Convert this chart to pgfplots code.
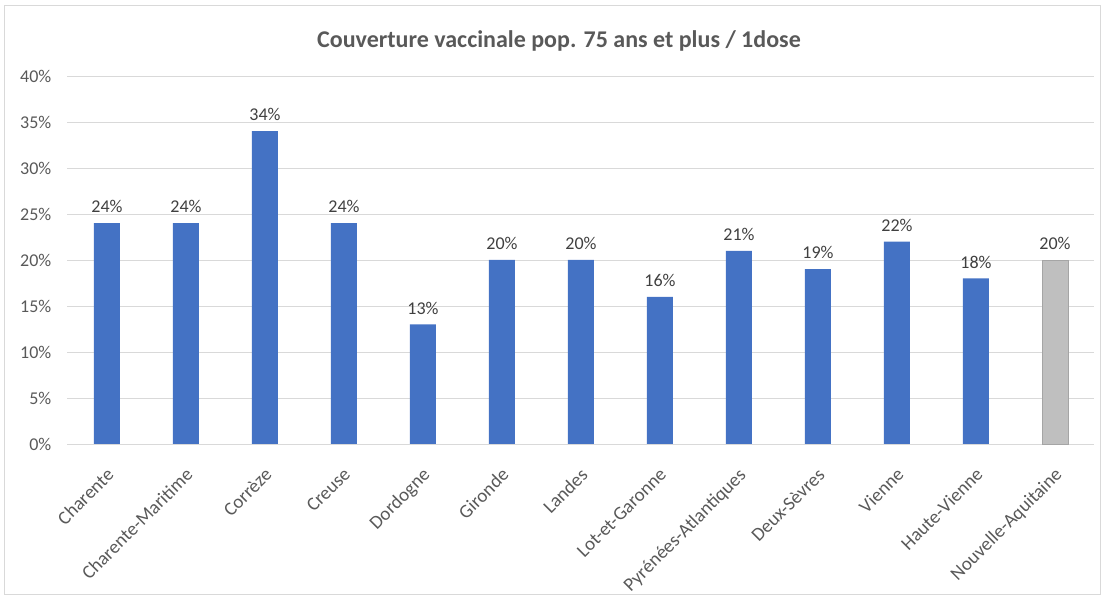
\documentclass[border=0pt]{standalone}
\usepackage{pgfplots}
\pgfplotsset{compat=1.18}
\usepackage{fontspec}
\setmainfont{Carlito}
\definecolor{barblue}{HTML}{4472C4}
\definecolor{bargray}{HTML}{BFBFBF}
\definecolor{bargrayedge}{HTML}{A5A5A5}
\definecolor{txt}{HTML}{595959}
\definecolor{grid}{HTML}{D9D9D9}
\begin{document}
\begin{tikzpicture}[x=1pt,y=1pt]
\useasboundingbox (-67.5,-153) rectangle (1036.5,444);
\draw[color=grid,line width=0.8pt] (-63,-150) rectangle (1033,439);
\begin{axis}[
  at={(0,0)}, anchor=south west,
  scale only axis, width=1027pt, height=368pt,
  xmin=-0.5, xmax=12.5, ymin=0, ymax=40,
  ytick={0,5,...,40},
  yticklabel={\pgfmathprintnumber{\tick}\%},
  /pgf/number format/assume math mode=true,
  ymajorgrids, grid style={color=grid, line width=0.8pt},
  axis y line*=left, axis x line*=bottom,
  y axis line style={draw=none},
  x axis line style={color=grid, line width=0.8pt},
  major tick length=0pt,
  xtick={0,...,12},
  xticklabels={Charente,Charente-Maritime,Corrèze,Creuse,Dordogne,Gironde,Landes,Lot-et-Garonne,Pyrénées-Atlantiques,Deux-Sèvres,Vienne,Haute-Vienne,Nouvelle-Aquitaine},
  xticklabel style={rotate=45, anchor=north east, font=\fontsize{19}{21}\selectfont, color=txt, inner sep=1pt, yshift=-14pt, xshift=-16pt},
  yticklabel style={font=\fontsize{18}{20}\selectfont, color=txt, inner sep=0pt, xshift=-16pt},
  ybar, bar width=26pt,
  nodes near coords={\pgfmathprintnumber{\pgfplotspointmeta}\%},
  nodes near coords style={font=\fontsize{18}{20}\selectfont, color=black!75, /pgf/number format/assume math mode=true, inner sep=2pt, yshift=8pt},
  title={\textbf{Couverture vaccinale pop. 75 ans et plus / 1dose}},
  title style={font=\fontsize{24}{28}\selectfont, color=txt, at={(0.5,1)}, anchor=center, yshift=29pt, xshift=-22pt},
  clip=false,
]
\addplot[fill=barblue, draw=none, bar shift=0pt] coordinates {
(0,24) (1,24) (2,34) (3,24) (4,13) (5,20) (6,20) (7,16) (8,21) (9,19) (10,22) (11,18)};
\addplot[fill=bargray, draw=bargrayedge, line width=0.8pt, bar shift=0pt] coordinates {(12,20)};
\end{axis}
\end{tikzpicture}
\end{document}
